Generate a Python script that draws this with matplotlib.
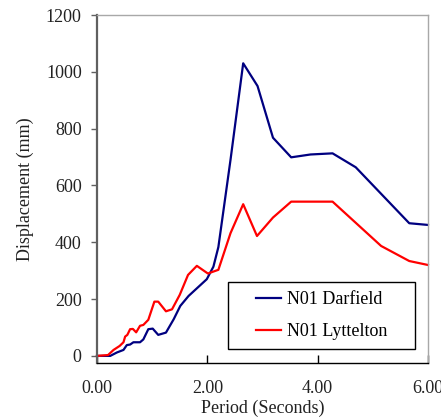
import matplotlib
matplotlib.use("Agg")
import matplotlib.pyplot as plt
from matplotlib.patches import Rectangle

period_darfield = [0.0, 0.24, 0.36, 0.48, 0.54, 0.60, 0.66, 0.78, 0.84, 0.93, 1.01, 1.11, 1.25,
                   1.39, 1.51, 1.66, 1.99, 2.11, 2.20, 2.42, 2.65, 2.91, 3.19, 3.52, 3.87,
                   4.27, 4.69, 5.66, 6.00]
disp_darfield = [0, 0, 12, 21, 38, 40, 48, 48, 58, 94, 96, 74, 82,
                 129, 176, 211, 270, 314, 383, 690, 1030, 950, 768, 699, 709,
                 713, 664, 467, 461]

period_lyttelton = [0.0, 0.20, 0.30, 0.41, 0.48, 0.51, 0.55, 0.60, 0.65, 0.71, 0.78, 0.84, 0.93,
                    1.04, 1.11, 1.25, 1.36, 1.50, 1.65, 1.81, 2.01, 2.20, 2.42, 2.65, 2.90,
                    3.19, 3.52, 4.27, 5.15, 5.66, 6.00]
disp_lyttelton = [0, 3, 21, 35, 48, 68, 74, 94, 95, 83, 106, 109, 127,
                  191, 191, 157, 164, 215, 285, 317, 290, 303, 432, 534, 422,
                  487, 543, 543, 387, 334, 320]

xticks = [0, 2, 4, 6]
xticklabels = ["0.00", "2.00", "4.00", "6.00"]
yticks = [0, 200, 400, 600, 800, 1000, 1200]

plt.rcParams['font.family'] = ['Liberation Serif', 'DejaVu Serif']
FS = 13

fig = plt.figure(figsize=(4.41, 4.18), dpi=100)
ax = fig.add_axes([97/441, 1-363/418, 331/441, 348/418])

ax.plot(period_darfield, disp_darfield, color='#000080', lw=1.6, label='N01 Darfield', clip_on=False)
ax.plot(period_lyttelton, disp_lyttelton, color='#ff0000', lw=1.6, label='N01 Lyttelton', clip_on=False)

ax.set_xlim(0, 6)
ax.set_ylim(-25, 1200)
ax.set_xticks(xticks)
ax.set_xticklabels(xticklabels)
ax.set_yticks(yticks)

ax.spines['left'].set_color('#606060')
ax.spines['left'].set_linewidth(1.6)
ax.spines['bottom'].set_color('black')
ax.spines['bottom'].set_linewidth(1.0)
ax.spines['top'].set_color('#a8a8a8')
ax.spines['right'].set_color('#a8a8a8')
ax.spines['top'].set_linewidth(1.0)
ax.spines['right'].set_linewidth(1.0)

ax.tick_params(axis='x', direction='in', length=6, width=1, pad=12, labelsize=FS, colors='black')
ax.tick_params(axis='x', labelcolor='#222222')
ax.tick_params(axis='y', direction='out', length=4, width=1, pad=7, labelsize=FS, color='#606060', labelcolor='#222222')

ax.set_xlabel('Period (Seconds)', fontsize=FS, color='#222222')
ax.set_ylabel('Displacement (mm)', fontsize=FS, color='#222222')
ax.xaxis.set_label_coords(0.5, -0.105)
ax.yaxis.set_label_coords(-0.19, 0.5)

# legend frame (drawn separately so the entries can be centred in it)
frame = Rectangle((0.397, 0.039), 0.564, 0.193, transform=ax.transAxes,
                  facecolor='white', edgecolor='black', linewidth=1.0, zorder=5)
ax.add_patch(frame)
leg = ax.legend(loc='center', bbox_to_anchor=(0.679, 0.1356), borderaxespad=0,
                fontsize=FS, frameon=False,
                handlelength=1.4, handletextpad=0.3, labelspacing=0.85, borderpad=0.0)
leg.set_zorder(6)

fig.savefig('out.png', dpi=100)
